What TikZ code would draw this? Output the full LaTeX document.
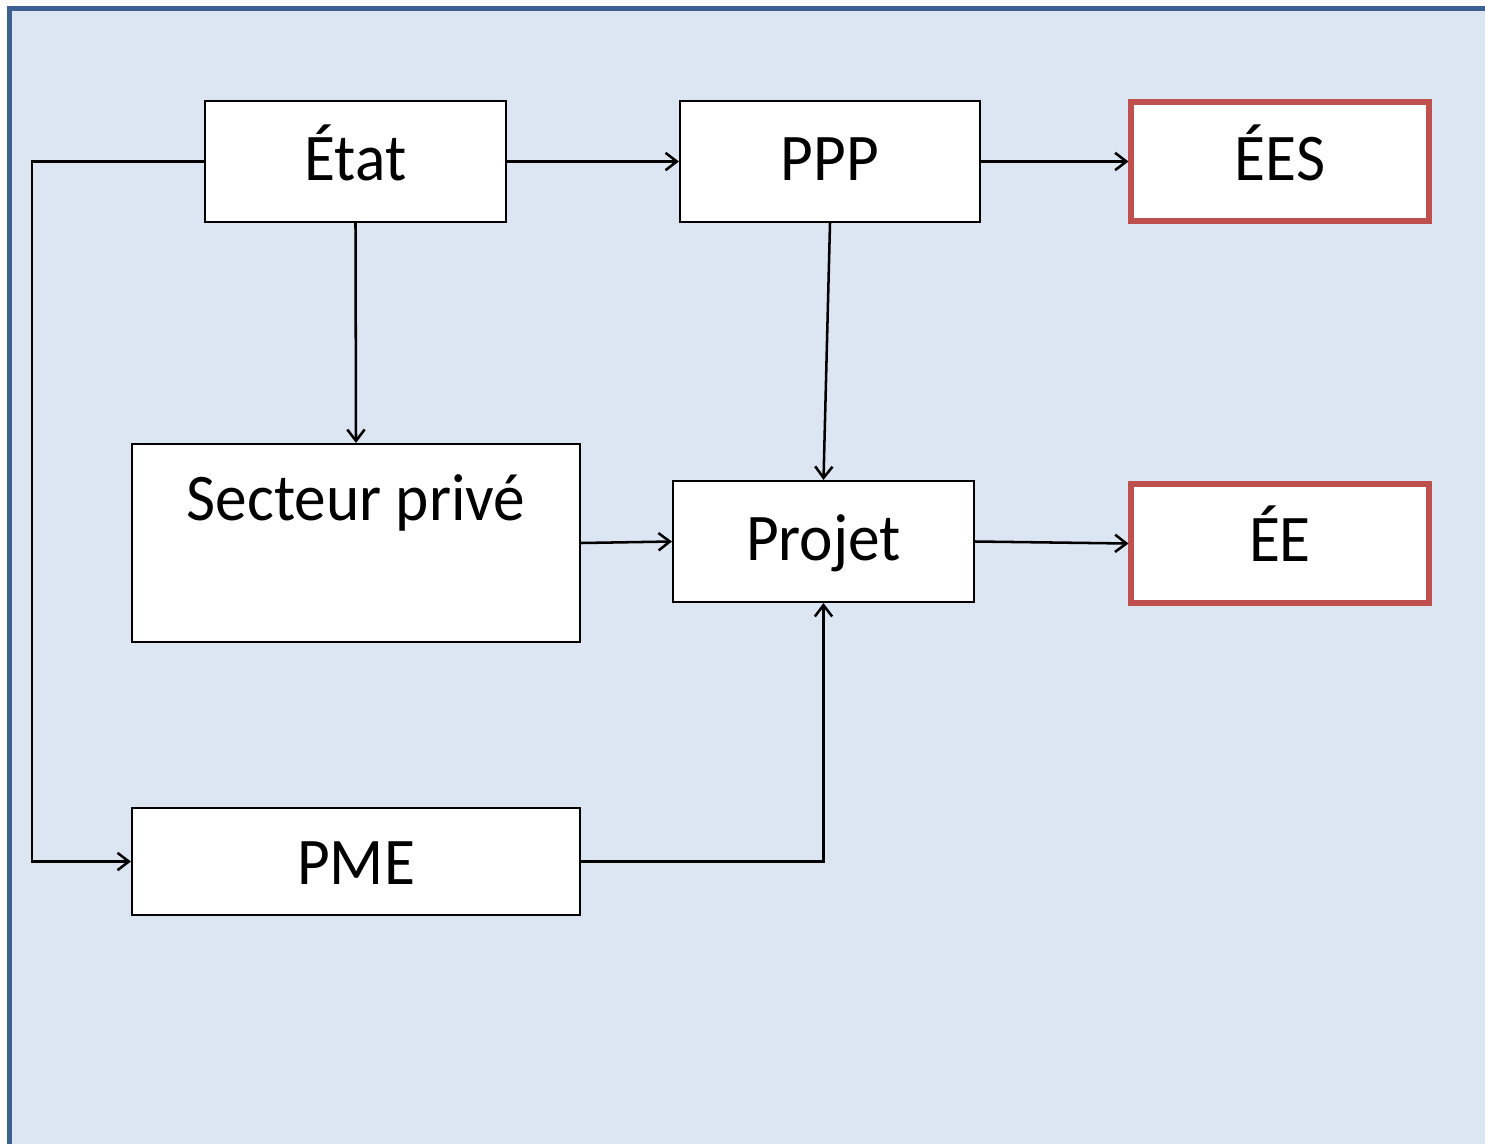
\documentclass[tikz,border=0pt]{standalone}
\usepackage{fontspec}
\setmainfont{Carlito}
\newfontfamily\lblfont[FakeStretch=0.95]{Carlito}
\usetikzlibrary{arrows.meta,fit}
\definecolor{bgblue}{HTML}{DCE6F2}
\definecolor{frameblue}{HTML}{3D6190}
\definecolor{boxred}{HTML}{C0504D}
\tikzset{
  lbl/.style={font=\lblfont\fontsize{50}{60}\selectfont, inner sep=0pt, anchor=base},
  box/.style={draw=black, line width=1.6pt, fill=white, inner sep=0pt},
  redbox/.style={box, draw=boxred, line width=3.8pt},
  conn/.style={line width=1.9pt, -{Straight Barb[length=8.5pt,width=13pt,line width=1.9pt]}}
}
\begin{document}
\begin{tikzpicture}[x=0.75pt,y=-0.75pt]
\useasboundingbox (0,0) rectangle (1485,1143);
\begin{scope}
  \clip (0,0) rectangle (1485,1143);
  \draw[draw=frameblue, fill=bgblue, line width=3.6pt] (9.5,8.5) rectangle (1520,1180);
\end{scope}
% boxes
\node[box, fit={(205,101) (506,222)}] (etat) {};
\node[box, fit={(680,101) (980,222)}] (ppp) {};
\node[redbox, fit={(1131,102) (1429,221)}] (ees) {};
\node[box, fit={(132,444) (580,642)}] (sp) {};
\node[box, fit={(673,481) (974,602)}] (projet) {};
\node[redbox, fit={(1131,484) (1429,603)}] (ee) {};
\node[box, fit={(132,808) (580,915)}] (pme) {};
% texts
\node[lbl] (etattxt) at (355.5,180) {État};
\node[lbl] (ppptxt) at (830,180) {PPP};
\node[lbl] (eestxt) at (1280,180) {ÉES};
\node[lbl] (sptxt) at (356,520) {Secteur privé};
\node[lbl] (projettxt) at (823.5,560) {Projet};
\node[lbl] (eetxt) at (1280,561) {ÉE};
\node[lbl] (pmetxt) at (356,884) {PME};
% connectors
\coordinate (c1) at (32,161.5);
\coordinate (c2) at (32,861.5);
\coordinate (c3) at (823.5,861.5);
\draw[conn] (etat.west) -- (c1) -- (c2) -- (pme.west);
\draw[conn] (etat.east) -- (ppp.west);
\draw[conn] (ppp.east) -- (ees.west);
\draw[conn] (etat.south) -- (sp.north);
\draw[conn] (ppp.south) -- (projet.north);
\draw[conn] (sp.east) -- (projet.west);
\draw[conn] (projet.east) -- (ee.west);
\draw[conn] (pme.east) -- (c3) -- (projet.south);
\end{tikzpicture}
\end{document}
